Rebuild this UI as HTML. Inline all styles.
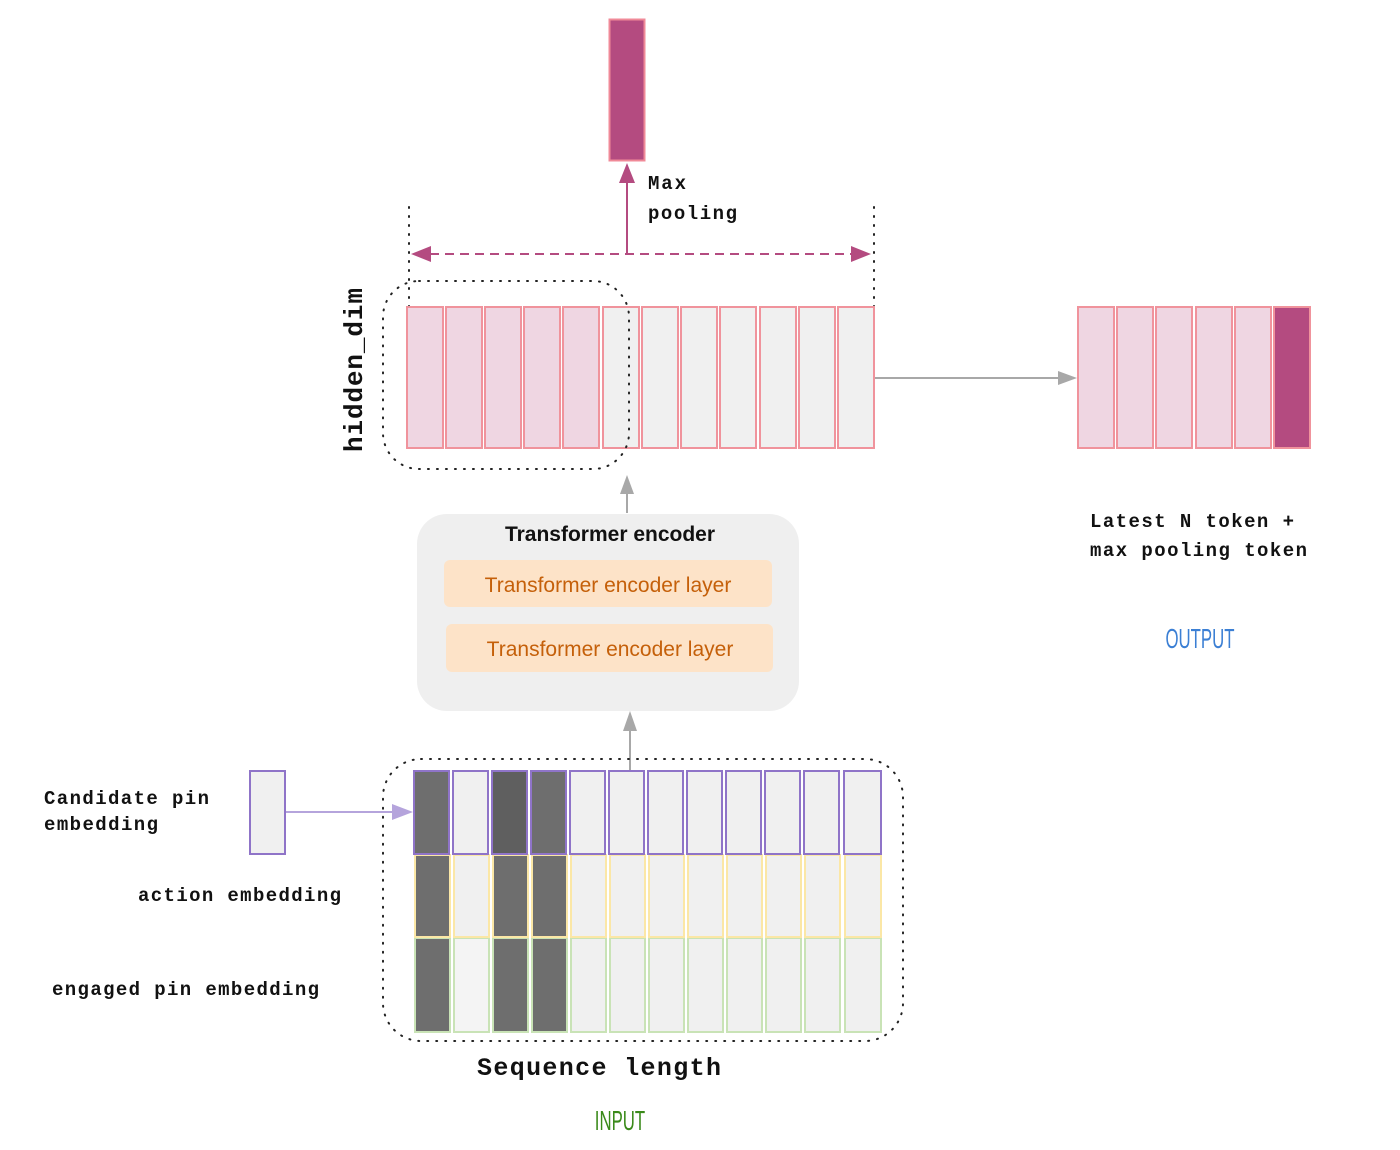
<!DOCTYPE html>
<html><head><meta charset="utf-8"><style>
html,body{margin:0;padding:0;background:#fff;width:1400px;height:1150px;overflow:hidden}
svg{display:block}
.m{font-family:"Liberation Mono",monospace;font-weight:bold;fill:#111}
</style></head><body>
<svg width="1400" height="1150" viewBox="0 0 1400 1150" xmlns="http://www.w3.org/2000/svg">
<rect x="609.5" y="19.5" width="35" height="141" fill="#b44b80" stroke="#f08a98" stroke-width="2"/>
<line x1="627" y1="255" x2="627" y2="182" stroke="#b44b80" stroke-width="2"/>
<path d="M619,183 L627,163 L635,183z" fill="#b44b80"/>
<text class="m" x="648" y="189" font-size="19" textLength="38">Max</text>
<text class="m" x="648" y="219" font-size="19" textLength="89">pooling</text>
<line x1="409" y1="207" x2="409" y2="307" stroke="#222" stroke-width="2" stroke-dasharray="1 8" stroke-linecap="round"/>
<line x1="874" y1="207" x2="874" y2="307" stroke="#222" stroke-width="2" stroke-dasharray="1 8" stroke-linecap="round"/>
<line x1="430" y1="254" x2="853" y2="254" stroke="#b44b80" stroke-width="2" stroke-dasharray="9 6"/>
<path d="M431,246 L411,254 L431,262z" fill="#b44b80"/>
<path d="M851,246 L871,254 L851,262z" fill="#b44b80"/>
<g stroke="#f0939c" stroke-width="2">
<rect x="407" y="307" width="36" height="141" fill="#efd6e2"/>
<rect x="446" y="307" width="36" height="141" fill="#efd6e2"/>
<rect x="485" y="307" width="36" height="141" fill="#efd6e2"/>
<rect x="524" y="307" width="36" height="141" fill="#efd6e2"/>
<rect x="563" y="307" width="36" height="141" fill="#efd6e2"/>
<rect x="603" y="307" width="36" height="141" fill="#f0f0f0"/>
<rect x="642" y="307" width="36" height="141" fill="#f0f0f0"/>
<rect x="681" y="307" width="36" height="141" fill="#f0f0f0"/>
<rect x="720" y="307" width="36" height="141" fill="#f0f0f0"/>
<rect x="760" y="307" width="36" height="141" fill="#f0f0f0"/>
<rect x="799" y="307" width="36" height="141" fill="#f0f0f0"/>
<rect x="838" y="307" width="36" height="141" fill="#f0f0f0"/>
</g>
<rect x="383" y="281" width="246" height="188" rx="36" fill="none" stroke="#222" stroke-width="2" stroke-dasharray="1 8" stroke-linecap="round"/>
<text class="m" font-size="26" transform="translate(362,452) rotate(-90)" textLength="164">hidden_dim</text>
<line x1="875" y1="378" x2="1060" y2="378" stroke="#a8a8a8" stroke-width="2"/>
<path d="M1058,371 L1077,378 L1058,385z" fill="#a8a8a8"/>
<g stroke="#f0939c" stroke-width="2">
<rect x="1078" y="307" width="36" height="141" fill="#efd6e2"/>
<rect x="1117" y="307" width="36" height="141" fill="#efd6e2"/>
<rect x="1156" y="307" width="36" height="141" fill="#efd6e2"/>
<rect x="1196" y="307" width="36" height="141" fill="#efd6e2"/>
<rect x="1235" y="307" width="36" height="141" fill="#efd6e2"/>
<rect x="1274" y="307" width="36" height="141" fill="#b44b80"/>
</g>
<text class="m" x="1090" y="527" font-size="19" textLength="204">Latest N token +</text>
<text class="m" x="1090" y="556" font-size="19" textLength="217">max pooling token</text>
<text x="1200" y="648" font-family="Liberation Sans Narrow,Liberation Sans,sans-serif" font-size="28" fill="#3b7fd4" text-anchor="middle" transform="translate(1200,0) scale(0.6,1) translate(-1200,0)">OUTPUT</text>
<line x1="627" y1="513" x2="627" y2="492" stroke="#a8a8a8" stroke-width="2"/>
<path d="M620,494 L627,475 L634,494z" fill="#a8a8a8"/>
<rect x="417" y="514" width="382" height="197" rx="30" fill="#efefef"/>
<text x="610" y="541" font-family="Liberation Sans,sans-serif" font-weight="bold" font-size="21" text-anchor="middle" fill="#111">Transformer encoder</text>
<rect x="444" y="560" width="328" height="47" rx="6" fill="#fde3c8"/>
<text x="608" y="592" font-family="Liberation Sans,sans-serif" font-size="21" text-anchor="middle" fill="#c5600a">Transformer encoder layer</text>
<rect x="446" y="624" width="327" height="48" rx="6" fill="#fde3c8"/>
<text x="610" y="656" font-family="Liberation Sans,sans-serif" font-size="21" text-anchor="middle" fill="#c5600a">Transformer encoder layer</text>
<line x1="630" y1="770" x2="630" y2="730" stroke="#a8a8a8" stroke-width="2"/>
<path d="M623,731 L630,711 L637,731z" fill="#a8a8a8"/>
<rect x="383" y="759" width="520" height="282" rx="38" fill="none" stroke="#222" stroke-width="2" stroke-dasharray="1 8" stroke-linecap="round"/>
<g stroke-width="2">
<g stroke="#c9e3b6">
<rect x="415" y="938" width="35" height="94" fill="#6e6e6e"/><rect x="454" y="938" width="35" height="94" fill="#f4f4f4"/>
<rect x="493" y="938" width="35" height="94" fill="#6e6e6e"/><rect x="532" y="938" width="35" height="94" fill="#6e6e6e"/>
<rect x="571" y="938" width="35" height="94" fill="#f0f0f0"/><rect x="610" y="938" width="35" height="94" fill="#f0f0f0"/>
<rect x="649" y="938" width="35" height="94" fill="#f0f0f0"/><rect x="688" y="938" width="35" height="94" fill="#f0f0f0"/>
<rect x="727" y="938" width="35" height="94" fill="#f0f0f0"/><rect x="766" y="938" width="35" height="94" fill="#f0f0f0"/>
<rect x="805" y="938" width="35" height="94" fill="#f0f0f0"/><rect x="845" y="938" width="36" height="94" fill="#f0f0f0"/>
</g>
<g stroke="#fbe7a6">
<rect x="415" y="855" width="35" height="82" fill="#6e6e6e"/><rect x="454" y="855" width="35" height="82" fill="#f0f0f0"/>
<rect x="493" y="855" width="35" height="82" fill="#6e6e6e"/><rect x="532" y="855" width="35" height="82" fill="#6e6e6e"/>
<rect x="571" y="855" width="35" height="82" fill="#f0f0f0"/><rect x="610" y="855" width="35" height="82" fill="#f0f0f0"/>
<rect x="649" y="855" width="35" height="82" fill="#f0f0f0"/><rect x="688" y="855" width="35" height="82" fill="#f0f0f0"/>
<rect x="727" y="855" width="35" height="82" fill="#f0f0f0"/><rect x="766" y="855" width="35" height="82" fill="#f0f0f0"/>
<rect x="805" y="855" width="35" height="82" fill="#f0f0f0"/><rect x="845" y="855" width="36" height="82" fill="#f0f0f0"/>
</g>
<g stroke="#8f74c8">
<rect x="414" y="771" width="35" height="83" fill="#6e6e6e"/><rect x="453" y="771" width="35" height="83" fill="#f0f0f0"/>
<rect x="492" y="771" width="35" height="83" fill="#5f5f5f"/><rect x="531" y="771" width="35" height="83" fill="#6e6e6e"/>
<rect x="570" y="771" width="35" height="83" fill="#f0f0f0"/><rect x="609" y="771" width="35" height="83" fill="#f0f0f0"/>
<rect x="648" y="771" width="35" height="83" fill="#f0f0f0"/><rect x="687" y="771" width="35" height="83" fill="#f0f0f0"/>
<rect x="726" y="771" width="35" height="83" fill="#f0f0f0"/><rect x="765" y="771" width="35" height="83" fill="#f0f0f0"/>
<rect x="804" y="771" width="35" height="83" fill="#f0f0f0"/><rect x="844" y="771" width="37" height="83" fill="#f0f0f0"/>
</g>
</g>
<rect x="250" y="771" width="35" height="83" fill="#f0f0f0" stroke="#8f74c8" stroke-width="2"/>
<line x1="286" y1="812" x2="395" y2="812" stroke="#b5a4dc" stroke-width="2"/>
<path d="M392,804 L413,812 L392,820z" fill="#b5a4dc"/>
<text class="m" x="44" y="804" font-size="19" textLength="165">Candidate pin</text>
<text class="m" x="44" y="830" font-size="19" textLength="114">embedding</text>
<text class="m" x="138" y="901" font-size="19" textLength="203">action embedding</text>
<text class="m" x="52" y="995" font-size="19" textLength="267">engaged pin embedding</text>
<text class="m" x="477" y="1075" font-size="25" textLength="244">Sequence length</text>
<text x="620" y="1130" font-family="Liberation Sans Narrow,Liberation Sans,sans-serif" font-size="28" fill="#3a8a1a" text-anchor="middle" transform="translate(620,0) scale(0.6,1) translate(-620,0)">INPUT</text>
</svg>
</body></html>
